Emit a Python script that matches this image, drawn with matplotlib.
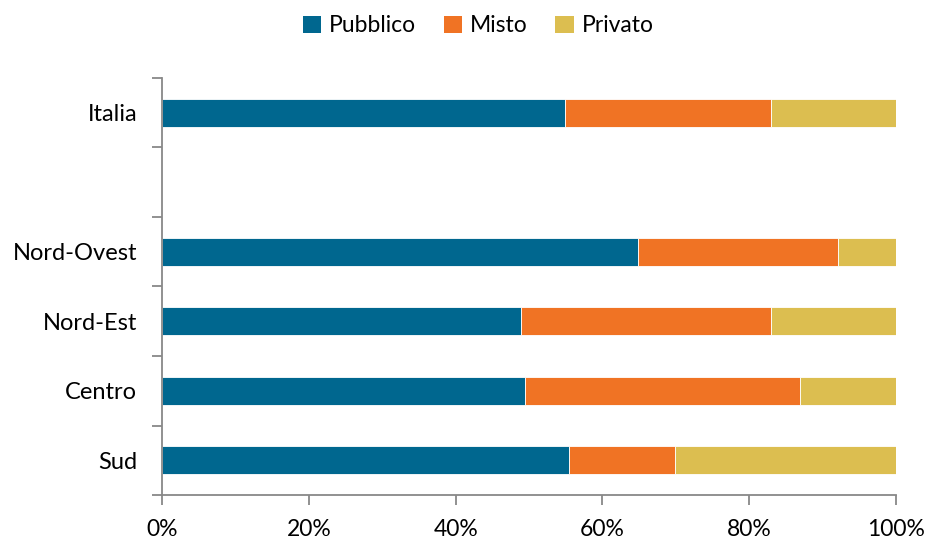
import numpy as np
import matplotlib.pyplot as plt
from matplotlib.patches import Patch

plt.rcParams['font.family'] = ['Lato', 'DejaVu Sans']

# areas from bottom to top; the empty slot separates Italia from the regions
areas = ['Sud', 'Centro', 'Nord-Est', 'Nord-Ovest', '', 'Italia']
pubblico = [55.4, 49.5, 48.9, 64.9, 0, 54.9]
misto = [14.5, 37.4, 34.1, 27.2, 0, 28.1]
privato = [30.1, 13.1, 17.0, 7.9, 0, 17.0]

series = ['Pubblico', 'Misto', 'Privato']
colors = ['#00678F', '#F07324', '#DCBE50']
xticks = [0, 20, 40, 60, 80, 100]

fig = plt.figure(figsize=(9.27, 5.4), dpi=100)
ax = fig.add_axes([0.1748, 0.0833, 0.7918, 0.7723])

y = np.arange(len(areas))
left = np.zeros(len(areas))
for vals, col in zip([pubblico, misto, privato], colors):
    vals = np.array(vals)
    ax.barh(y, vals, left=left, height=0.4, color=col, edgecolor='white', linewidth=0.6)
    left += vals

ax.set_xlim(0, 100)
ax.set_ylim(-0.5, len(areas) - 0.5)
ax.set_xticks(xticks)
ax.set_xticklabels([f'{v}%' for v in xticks], fontsize=16.5)
ax.set_yticks(y)
ax.set_yticklabels(areas, fontsize=17)
ax.set_yticks(np.arange(-0.5, len(areas)), minor=True)
ax.tick_params(axis='y', which='major', length=0, pad=18)
ax.tick_params(axis='y', which='minor', length=7, width=1.3, color='#888888')
ax.tick_params(axis='x', length=7, width=1.3, color='#888888', pad=10)

for s in ['top', 'right']:
    ax.spines[s].set_visible(False)
for s in ['left', 'bottom']:
    ax.spines[s].set_color('#888888')
    ax.spines[s].set_linewidth(1.3)

handles = [Patch(facecolor=c, edgecolor='none') for c in colors]
fig.legend(handles, series, loc='center', bbox_to_anchor=(0.516, 0.952), ncol=3,
           frameon=False, fontsize=16.5, handlelength=0.8, handleheight=0.8,
           handletextpad=0.35, columnspacing=1.2)

fig.savefig('out.png', dpi=100)
